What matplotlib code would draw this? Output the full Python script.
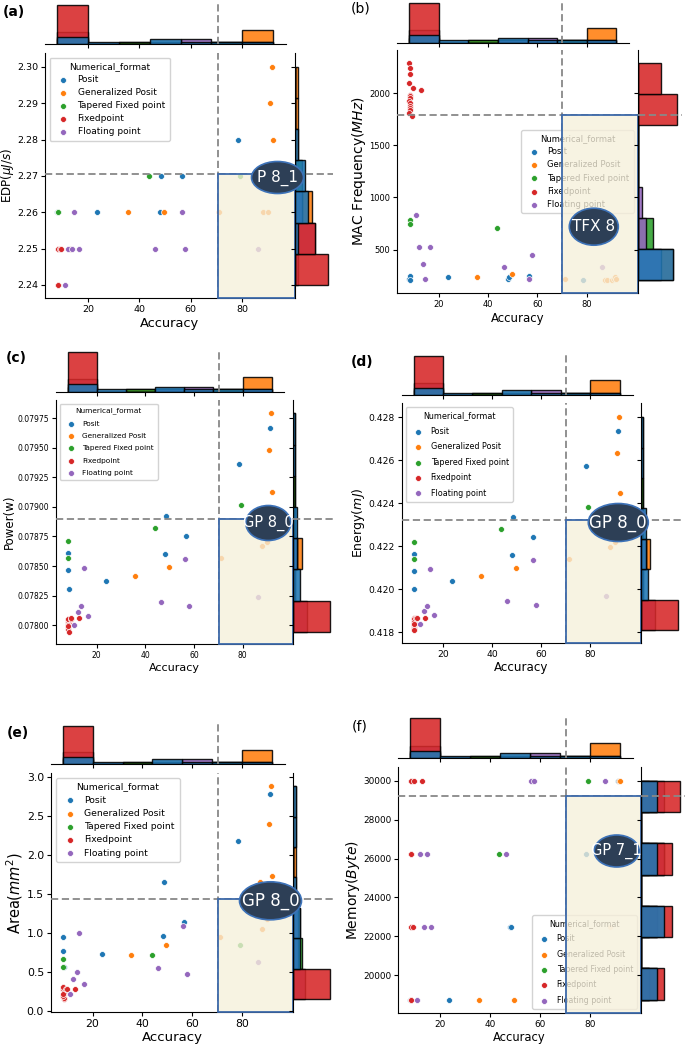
import numpy as np
import matplotlib.pyplot as plt
from matplotlib.patches import Rectangle, Ellipse
from matplotlib.ticker import FormatStrFormatter

formats = ['Posit', 'Generalized Posit', 'Tapered Fixed point', 'Fixedpoint', 'Floating point']
colors = ['#1f77b4', '#ff7f0e', '#2ca02c', '#d62728', '#9467bd']

# accuracy of every configuration, one list per numerical format
acc_posit = [8.1, 8.3, 8.5, 23.7, 48.1, 48.5, 56.8, 78.4, 91.3]
acc_gposit = [35.6, 49.6, 71.2, 87.2, 88.0, 90.1, 90.9, 91.6, 92.0]
acc_tfx = [8.3, 8.3, 43.8, 79.2]
acc_fixed = [8.2, 8.3, 8.4, 8.2, 8.5, 8.3, 8.4, 8.2, 8.3, 8.5, 8.4, 8.3, 8.2, 9.3, 9.6, 12.9]
acc_float = [10.9, 12.2, 13.7, 14.7, 16.4, 46.3, 56.5, 57.9, 86.3]

edp_posit = [2.26, 2.26, 2.25, 2.26, 2.26, 2.27, 2.27, 2.28, 2.27]
edp_gposit = [2.26, 2.26, 2.26, 2.27, 2.26, 2.26, 2.29, 2.30, 2.28]
edp_tfx = [2.26, 2.26, 2.27, 2.27]
edp_fixed = [2.24, 2.24, 2.24, 2.24, 2.24, 2.24, 2.24, 2.24, 2.24, 2.24, 2.25, 2.25, 2.25, 2.25, 2.25, 2.25]
edp_float = [2.24, 2.25, 2.25, 2.26, 2.25, 2.25, 2.26, 2.25, 2.25]

mac_posit = [215, 247, 210, 238, 215, 232, 247, 209, 215]
mac_gposit = [238, 267, 222, 209, 209, 209, 222, 235, 222]
mac_tfx = [785, 747, 705, 720]
mac_fixed = [2288, 2246, 2185, 2096, 1985, 1970, 1955, 1926, 1905, 1878, 1860, 1840, 1810, 1783, 2054, 2029]
mac_float = [833, 522, 366, 222, 522, 331, 215, 452, 334]

power_posit = [0.078466, 0.078612, 0.078305, 0.078370, 0.078598, 0.078923, 0.078754, 0.079363, 0.079671]
power_gposit = [0.078415, 0.078491, 0.078565, 0.078880, 0.078669, 0.078706, 0.079482, 0.079792, 0.079129]
power_tfx = [0.078711, 0.078565, 0.078824, 0.079016]
power_fixed = [0.078050, 0.078040, 0.078030, 0.078020, 0.078010, 0.078000, 0.077990, 0.077980,
               0.077970, 0.077944, 0.078050, 0.078000, 0.077990, 0.078050, 0.078056, 0.078056]
power_float = [0.078000, 0.078113, 0.078164, 0.078480, 0.078076, 0.078198, 0.078562, 0.078164, 0.078240]

energy_posit = [0.42086, 0.42165, 0.42001, 0.42037, 0.42159, 0.42336, 0.42243, 0.42572, 0.42737]
energy_gposit = [0.42060, 0.42100, 0.42141, 0.42350, 0.42196, 0.42220, 0.42633, 0.42800, 0.42446]
energy_tfx = [0.42219, 0.42142, 0.42280, 0.42384]
energy_fixed = [0.41865, 0.41855, 0.41845, 0.41840, 0.41835, 0.41830, 0.41825, 0.41820,
                0.41815, 0.41810, 0.41860, 0.41850, 0.41840, 0.41868, 0.41865, 0.41865]
energy_float = [0.41837, 0.41901, 0.41924, 0.42096, 0.41880, 0.41944, 0.42136, 0.41925, 0.41969]

area_posit = [0.76, 0.95, 0.56, 0.73, 0.96, 1.65, 1.14, 2.18, 2.78]
area_gposit = [0.71, 0.84, 0.94, 1.65, 1.05, 1.17, 2.40, 2.88, 1.73]
area_tfx = [0.66, 0.56, 0.71, 0.84]
area_fixed = [0.30, 0.26, 0.22, 0.18, 0.15, 0.20, 0.25, 0.28, 0.30, 0.16, 0.24, 0.19, 0.22, 0.28, 0.28, 0.28]
area_float = [0.22, 0.40, 0.50, 1.00, 0.34, 0.55, 1.09, 0.47, 0.62]

mem_posit = [18750, 22500, 26250, 18750, 22500, 22500, 30000, 26250, 30000]
mem_gposit = [18750, 18750, 22500, 26250, 22500, 26250, 26250, 30000, 30000]
mem_tfx = [22500, 18750, 26250, 30000]
mem_fixed = [30000, 30000, 30000, 26250, 26250, 26250, 26250, 22500,
             22500, 22500, 18750, 18750, 18750, 22500, 30000, 30000]
mem_float = [18750, 26250, 22500, 26250, 22500, 26250, 30000, 30000, 30000]

accs = [acc_posit, acc_gposit, acc_tfx, acc_fixed, acc_float]

panels = [
    dict(tag='(a)', ys=[edp_posit, edp_gposit, edp_tfx, edp_fixed, edp_float],
         ylabel='EDP($\\mu J/s$)', thr_x=70.8, thr_y=2.2705, best='P 8_1',
         yticks=[2.24, 2.25, 2.26, 2.27, 2.28, 2.29, 2.30], yfmt='%.2f', ylim=(2.2364, 2.3038)),
    dict(tag='(b)', ys=[mac_posit, mac_gposit, mac_tfx, mac_fixed, mac_float],
         ylabel='MAC Frequency($MHz$)', thr_x=70.0, thr_y=1792, best='TFX 8',
         yticks=[500, 1000, 1500, 2000], yfmt='%d', ylim=(83, 2416)),
    dict(tag='(c)', ys=[power_posit, power_gposit, power_tfx, power_fixed, power_float],
         ylabel='Power(w)', thr_x=70.3, thr_y=0.078895, best='GP 8_0',
         yticks=[0.078, 0.07825, 0.0785, 0.07875, 0.079, 0.07925, 0.0795, 0.07975], yfmt='%.5f',
         ylim=(0.07784, 0.079905)),
    dict(tag='(d)', ys=[energy_posit, energy_gposit, energy_tfx, energy_fixed, energy_float],
         ylabel='Energy($mJ$)', thr_x=70.3, thr_y=0.4232, best='GP 8_0',
         yticks=[0.418, 0.420, 0.422, 0.424, 0.426, 0.428], yfmt='%.3f', ylim=(0.41752, 0.42864)),
    dict(tag='(e)', ys=[area_posit, area_gposit, area_tfx, area_fixed, area_float],
         ylabel='Area($mm^2$)', thr_x=70.5, thr_y=1.432, best='GP 8_0',
         yticks=[0.0, 0.5, 1.0, 1.5, 2.0, 2.5, 3.0], yfmt='%.1f', ylim=(-0.013, 3.044)),
    dict(tag='(f)', ys=[mem_posit, mem_gposit, mem_tfx, mem_fixed, mem_float],
         ylabel='Memory($Byte$)', thr_x=70.7, thr_y=29214, best='GP 7_1',
         yticks=[20000, 22000, 24000, 26000, 28000, 30000], yfmt='%d', ylim=(18079, 30719)),
]

# layout in pixels: main axes (l, t, r, b), top-hist baseline / bar top, right-hist bar end,
# panel tag position, bubble (cx, cy, w, h, fontsize), legend loc and font sizes
layout = [
    dict(main=(45, 53, 295, 298), tb=44.3, tt=5, rr=328, tagpos=(3, 12), bold=True,
         bub=(277.5, 177.5, 52, 32, 11), loc='upper left', leg_fs=6.5, lsp=0.45,
         tick_fs=6.8, xl_fs=9.4, yl_fs=8.6),
    dict(main=(397.3, 50, 637.7, 293), tb=42.7, tt=2.7, rr=676.7, tagpos=(351, 9), bold=False,
         bub=(593.8, 226.7, 49, 37, 11), loc='center right', leg_fs=6, lsp=0.5,
         tick_fs=6, xl_fs=8.5, yl_fs=10),
    dict(main=(56, 400, 292.7, 644), tb=391.7, tt=351.7, rr=330, tagpos=(6, 358), bold=True,
         bub=(268.3, 523, 45, 35, 10.5), loc='upper left', leg_fs=5.3, lsp=0.85,
         tick_fs=5.5, xl_fs=8, yl_fs=8.5),
    dict(main=(401.7, 403.3, 641, 642.7), tb=395, tt=356, rr=678, tagpos=(351, 362.5), bold=True,
         bub=(618.3, 522.5, 60, 38, 12), loc='upper left', leg_fs=5.8, lsp=0.8,
         tick_fs=6.6, xl_fs=8.6, yl_fs=9),
    dict(main=(51, 773.3, 293.3, 1011.7), tb=764, tt=725.7, rr=330, tagpos=(7, 733), bold=True,
         bub=(270.5, 900.8, 62, 38, 12), loc='upper left', leg_fs=6.7, lsp=0.45,
         tick_fs=7.8, xl_fs=9.5, yl_fs=10.5),
    dict(main=(398.3, 766.7, 641, 1012.7), tb=758.3, tt=718.3, rr=680, tagpos=(352, 726.5), bold=False,
         bub=(616.7, 851, 45, 32, 10.5), loc='lower right', leg_fs=5.7, lsp=0.8,
         tick_fs=6.4, xl_fs=8.3, yl_fs=10),
]

W, H = 685, 1049
XLIM_MAIN = (3.3, 100.6)
XLIM_TOP = (3.3, 97.2)
hist_order = [1, 2, 4, 3, 0]

fig = plt.figure(figsize=(W / 100, H / 100), dpi=100)


def add_px(l, t, r, b):
    return fig.add_axes([l / W, 1 - b / H, (r - l) / W, (b - t) / H])


for p, lay in zip(panels, layout):
    l, t, r, b = lay['main']
    ax = add_px(l, t, r, b)
    top_r = l + (r - l) * (XLIM_TOP[1] - XLIM_TOP[0]) / (XLIM_MAIN[1] - XLIM_MAIN[0])
    ax_top = add_px(l, lay['tt'] - 3, top_r, lay['tb'])
    ax_right = add_px(r, t, lay['rr'] + 5, b)

    for k in range(5):
        ax.scatter(accs[k], p['ys'][k], s=18, color=colors[k], edgecolor='white',
                   linewidth=0.5, label=formats[k], zorder=3)

    ax.set_xlim(*XLIM_MAIN)
    ax.set_ylim(*p['ylim'])
    ax.set_xticks([20, 40, 60, 80])
    ax.set_yticks(p['yticks'])
    ax.yaxis.set_major_formatter(FormatStrFormatter(p['yfmt']))
    for s in ['top', 'right']:
        ax.spines[s].set_visible(False)
    ax.tick_params(labelsize=lay['tick_fs'], length=3, width=0.8, pad=2)
    ax.set_xlabel('Accuracy', fontsize=lay['xl_fs'], labelpad=2)
    ax.set_ylabel(p['ylabel'], fontsize=lay['yl_fs'], labelpad=1)

    leg = ax.legend(title='Numerical_format', loc=lay['loc'], frameon=True, framealpha=0.85,
                    edgecolor='#cccccc', fontsize=lay['leg_fs'], title_fontsize=lay['leg_fs'],
                    handletextpad=0.6, borderpad=0.5, labelspacing=lay['lsp'], scatterpoints=1)
    leg.set_zorder(5)

    # marginal histograms, shared bins over all formats
    all_x = np.concatenate([np.asarray(a, float) for a in accs])
    all_y = np.concatenate([np.asarray(v, float) for v in p['ys']])
    xbins = np.linspace(all_x.min(), all_x.max(), 8)
    ybins = np.linspace(all_y.min(), all_y.max(), 8)
    xmax = 0
    ymax = 0
    for k in hist_order:
        n1, _, _ = ax_top.hist(accs[k], bins=xbins, color=colors[k], alpha=0.88,
                               edgecolor='black', linewidth=1.0)
        n2, _, _ = ax_right.hist(p['ys'][k], bins=ybins, orientation='horizontal', color=colors[k],
                                 alpha=0.88, edgecolor='black', linewidth=1.0)
        xmax = max(xmax, n1.max())
        ymax = max(ymax, n2.max())

    ax_top.set_xlim(*XLIM_TOP)
    ax_top.set_ylim(0, xmax * (lay['tb'] - lay['tt'] + 3) / (lay['tb'] - lay['tt']))
    ax_top.set_xticks([20, 40, 60, 80])
    ax_top.set_yticks([])
    ax_top.tick_params(labelbottom=False, length=3, width=0.8)
    for s in ['top', 'right', 'left']:
        ax_top.spines[s].set_visible(False)

    ax_right.set_ylim(*p['ylim'])
    ax_right.set_xlim(0, ymax * (lay['rr'] + 5 - r) / (lay['rr'] - r))
    ax_right.set_yticks(p['yticks'])
    ax_right.set_xticks([])
    ax_right.tick_params(labelleft=False, length=3, width=0.8)
    for s in ['top', 'right', 'bottom']:
        ax_right.spines[s].set_visible(False)

    # threshold lines
    for a in (ax, ax_top):
        a.axvline(p['thr_x'], color='#888888', linestyle='--', linewidth=1.3, dashes=(4, 2), zorder=4)
    for a in (ax, ax_right):
        a.axhline(p['thr_y'], color='#888888', linestyle='--', linewidth=1.3, dashes=(4, 2), zorder=4)

    # selection box
    y0 = p['ylim'][0]
    ax.add_patch(Rectangle((p['thr_x'], y0), XLIM_MAIN[1] - p['thr_x'], p['thr_y'] - y0,
                           facecolor=(0.965, 0.94, 0.86, 0.78), edgecolor='#3d6aaa',
                           linewidth=1.3, zorder=6, clip_on=False))

    # best-configuration bubble
    cx, cy, bw, bh, bfs = lay['bub']
    fig.add_artist(Ellipse((cx / W, 1 - cy / H), bw / W, bh / H, transform=fig.transFigure,
                           facecolor='#2d3f56', edgecolor='#3d72b8', linewidth=1.2, zorder=10))
    fig.text(cx / W, 1 - cy / H, p['best'], color='white', ha='center', va='center',
             fontsize=bfs, zorder=11)

    tx, ty = lay['tagpos']
    fig.text(tx / W, 1 - ty / H, p['tag'], ha='left', va='center', fontsize=10,
             fontweight='bold' if lay['bold'] else 'normal')

fig.savefig('out.png', dpi=100)
